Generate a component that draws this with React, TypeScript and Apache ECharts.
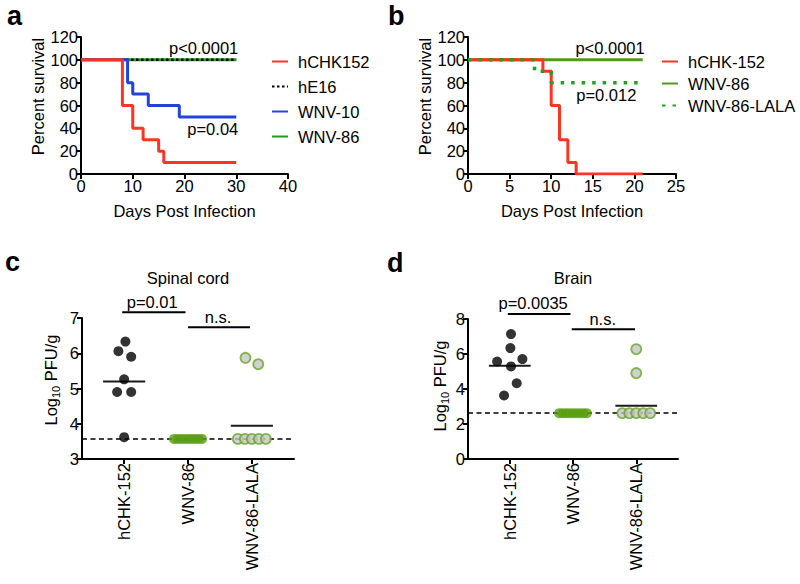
import React, { useEffect, useRef } from 'react';
import * as echarts from 'echarts';

const FONT = '"Liberation Sans", Arial, Helvetica, sans-serif';
const FS = 16.5;

// ---- Panel a: survival (day, percent) ----
const survA_hCHK152 = [[0, 100], [8, 60], [10, 40], [12, 30], [15, 20], [16, 10], [30, 10]];
const survA_hE16 = [[0, 100], [30, 100]];
const survA_WNV10 = [[0, 100], [9, 80], [10, 70], [13, 60], [19, 50], [30, 50]];
const survA_WNV86 = [[0, 100], [30, 100]];
const annotA = [
  { text: 'p<0.0001', x: 30, y: 100, above: true },
  { text: 'p=0.04', x: 30, y: 50, above: false },
];

// ---- Panel b ----
const survB_hCHK152 = [[0, 100], [9, 90], [10, 60], [11, 30], [12, 10], [13, 0], [21, 0]];
const survB_WNV86 = [[0, 100], [21, 100]];
const survB_LALA = [[0, 100], [8, 90], [10, 80], [21, 80]];
const annotB = [
  { text: 'p<0.0001', x: 21, y: 100, above: true },
  { text: 'p=0.012', x: 20, y: 80, above: false },
];

// ---- Panels c/d: viral titers ----
const groups = ['hCHK-152', 'WNV-86', 'WNV-86-LALA'];

// [group index + jitter, log10 PFU/g]
const spinal_hCHK = [[-0.09, 6.06], [0.02, 6.33], [0.11, 5.9], [0, 5.26], [-0.11, 4.9], [0.11, 4.9], [0, 3.62]];
const spinal_WNV86 = [[0.78, 3.57], [0.835, 3.57], [0.89, 3.57], [0.945, 3.57], [1, 3.57], [1.055, 3.57], [1.11, 3.57], [1.165, 3.57], [1.22, 3.57]];
const spinal_LALA = [[1.9, 5.87], [2.1, 5.69], [1.78, 3.57], [1.89, 3.57], [2, 3.57], [2.11, 3.57], [2.22, 3.57]];
const spinal_means = [[0, 5.2], [2, 3.94]];
const spinal_limit = 3.57;
const spinal_sig = [[-0.03, 0.96, 7.16, 0.44], [1.0, 1.97, 6.74, 1.47]];
const spinal_sigText = ['p=0.01', 'n.s.'];

const brain_hCHK = [[0.02, 7.14], [0.01, 6.34], [-0.2, 5.57], [0.2, 5.71], [0.02, 5.29], [0.11, 4.33], [-0.09, 3.63]];
const brain_WNV86 = [[0.78, 2.62], [0.835, 2.62], [0.89, 2.62], [0.945, 2.62], [1, 2.62], [1.055, 2.62], [1.11, 2.62], [1.165, 2.62], [1.22, 2.62]];
const brain_LALA = [[2, 6.28], [2, 4.91], [1.78, 2.62], [1.89, 2.62], [2, 2.62], [2.11, 2.62], [2.22, 2.62]];
const brain_means = [[0, 5.33], [2, 3.04]];
const brain_limit = 2.62;
const brain_sig = [[-0.03, 0.96, 8.29, 0.37], [0.98, 1.98, 7.41, 1.47]];
const brain_sigText = ['p=0.0035', 'n.s.'];

const RED = '#ff3322';
const BLUE = '#2244dd';
const GREEN_A = '#229922';
const GREEN_B = '#4f9a1e';
const GREEN_DOT = '#1fa31f';
const GREEN_C = '#5a9e12';
const GREY_FILL = '#c6c6c6';
const GREEN_RING = '#6aa628';

const axisCommon = {
  axisLine: { onZero: false, lineStyle: { color: '#000', width: 2 } },
  axisTick: { lineStyle: { color: '#000', width: 2 }, length: 5 },
  axisLabel: { color: '#000', fontSize: FS, fontFamily: FONT, margin: 3 },
  splitLine: { show: false },
  nameTextStyle: { color: '#000', fontSize: FS, fontFamily: FONT },
};

function annotSeries(idx: number, annots: any[]) {
  return {
    type: 'custom',
    xAxisIndex: idx,
    yAxisIndex: idx,
    silent: true,
    z: 10,
    data: annots.map((a) => [a.x, a.y]),
    renderItem: (params: any, api: any) => {
      const a = annots[params.dataIndex];
      const p = api.coord([api.value(0), api.value(1)]);
      return {
        type: 'text',
        x: p[0] + 2,
        y: a.above ? p[1] - 3 : p[1] + 4,
        style: {
          text: a.text,
          fill: '#000',
          fontSize: FS,
          fontFamily: FONT,
          align: 'right',
          verticalAlign: a.above ? 'bottom' : 'top',
        },
      };
    },
  };
}

function meanSeries(idx: number, means: number[][]) {
  return {
    type: 'custom',
    xAxisIndex: idx,
    yAxisIndex: idx,
    silent: true,
    z: 1,
    data: means,
    renderItem: (params: any, api: any) => {
      const c = api.value(0);
      const m = api.value(1);
      const p1 = api.coord([c - 0.33, m]);
      const p2 = api.coord([c + 0.33, m]);
      return {
        type: 'line',
        shape: { x1: p1[0], y1: p1[1], x2: p2[0], y2: p2[1] },
        style: { stroke: '#1a1a1a', lineWidth: 2 },
      };
    },
  };
}

function sigSeries(idx: number, sig: number[][], texts: string[]) {
  return {
    type: 'custom',
    xAxisIndex: idx,
    yAxisIndex: idx,
    silent: true,
    z: 5,
    dimensions: ['from', 'to', 'y', 'lx'],
    encode: { x: [0, 1, 3], y: 2 },
    data: sig,
    renderItem: (params: any, api: any) => {
      const y = api.value(2);
      const p1 = api.coord([api.value(0), y]);
      const p2 = api.coord([api.value(1), y]);
      const pl = api.coord([api.value(3), y]);
      return {
        type: 'group',
        children: [
          {
            type: 'line',
            shape: { x1: p1[0], y1: p1[1], x2: p2[0], y2: p2[1] },
            style: { stroke: '#000', lineWidth: 2 },
          },
          {
            type: 'text',
            x: pl[0],
            y: pl[1] - 2,
            style: {
              text: texts[params.dataIndex],
              fill: '#000',
              fontSize: FS,
              fontFamily: FONT,
              align: 'center',
              verticalAlign: 'bottom',
            },
          },
        ],
      };
    },
  };
}

function scatterSeries(idx: number, name: string, data: number[][], style: any, limit?: number) {
  const s: any = {
    type: 'scatter',
    name,
    xAxisIndex: idx,
    yAxisIndex: idx,
    data,
    symbol: 'circle',
    symbolSize: 10,
    itemStyle: style,
    z: 3,
    silent: true,
  };
  if (limit !== undefined) {
    s.markLine = {
      silent: true,
      symbol: ['none', 'none'],
      label: { show: false },
      lineStyle: { type: [5, 3.5], color: '#000', width: 1.5 },
      z: 1,
      data: [{ yAxis: limit }],
    };
  }
  return s;
}

const titerXAxis = (gridIndex: number) => ({
  ...axisCommon,
  type: 'value',
  gridIndex,
  min: -0.66,
  max: 2.66,
  axisTick: { ...axisCommon.axisTick, customValues: [0, 1, 2] },
  axisLabel: {
    ...axisCommon.axisLabel,
    margin: 4,
    rotate: 90,
    customValues: [0, 1, 2],
    formatter: (v: number) => groups[Math.round(v)] ?? '',
  },
});

const logName = '{a|Log}{s|10}{a| PFU/g}';
const logRich = {
  a: { fontSize: FS, fontFamily: FONT, color: '#000', lineHeight: 20 },
  s: { fontSize: 11, fontFamily: FONT, color: '#000', verticalAlign: 'bottom', lineHeight: 14 },
};

const legendCommon = {
  orient: 'vertical',
  itemWidth: 16,
  itemHeight: 14,
  padding: 0,
  selectedMode: false,
  itemStyle: { opacity: 0 },
  textStyle: { fontSize: FS, fontFamily: FONT, color: '#000', padding: [0, 0, 0, 5] },
};

const option: any = {
  animation: false,
  backgroundColor: '#fff',
  textStyle: { fontFamily: FONT },
  grid: [
    { left: 81, top: 37, width: 207, height: 137, outerBoundsMode: 'none' },
    { left: 468, top: 37, width: 208, height: 137, outerBoundsMode: 'none' },
    { left: 82, top: 318, width: 212, height: 141, outerBoundsMode: 'none' },
    { left: 468, top: 319, width: 210, height: 140, outerBoundsMode: 'none' },
  ],
  xAxis: [
    { ...axisCommon, type: 'value', gridIndex: 0, min: 0, max: 40, interval: 10, name: 'Days Post Infection', nameLocation: 'middle', nameGap: 28 },
    { ...axisCommon, type: 'value', gridIndex: 1, min: 0, max: 25, interval: 5, name: 'Days Post Infection', nameLocation: 'middle', nameGap: 28 },
    titerXAxis(2),
    titerXAxis(3),
  ],
  yAxis: [
    { ...axisCommon, type: 'value', gridIndex: 0, min: 0, max: 120, interval: 20, name: 'Percent survival', nameLocation: 'middle', nameGap: 33, nameTextStyle: { ...axisCommon.nameTextStyle, padding: [0, 0, 0, 18] } },
    { ...axisCommon, type: 'value', gridIndex: 1, min: 0, max: 120, interval: 20, name: 'Percent survival', nameLocation: 'middle', nameGap: 32, nameTextStyle: { ...axisCommon.nameTextStyle, padding: [0, 0, 0, 18] } },
    { ...axisCommon, type: 'value', gridIndex: 2, min: 3, max: 7, interval: 1, name: logName, nameLocation: 'middle', nameGap: 21, nameTextStyle: { ...axisCommon.nameTextStyle, rich: logRich, padding: [0, 0, 0, 17] } },
    { ...axisCommon, type: 'value', gridIndex: 3, min: 0, max: 8, interval: 2, name: logName, nameLocation: 'middle', nameGap: 18, nameTextStyle: { ...axisCommon.nameTextStyle, rich: logRich, padding: [0, 0, 0, 6] } },
  ],
  legend: [
    {
      ...legendCommon, left: 271, top: 53, itemGap: 8,
      data: ['hCHK152', 'hE16', 'WNV-10', { name: 'WNV-86', lineStyle: { color: GREEN_A } }],
    },
    {
      ...legendCommon, left: 661, top: 53, itemGap: 5,
      data: ['hCHK-152', { name: 'WNV-86', lineStyle: { color: GREEN_B, type: 'solid' } }, 'WNV-86-LALA'],
    },
  ],
  graphic: [
    { type: 'text', left: 7, top: 2, style: { text: 'a', fontSize: 27, fontWeight: 'bold', fontFamily: FONT, fill: '#000' } },
    { type: 'text', left: 388, top: 2, style: { text: 'b', fontSize: 27, fontWeight: 'bold', fontFamily: FONT, fill: '#000' } },
    { type: 'text', left: 5, top: 248, style: { text: 'c', fontSize: 27, fontWeight: 'bold', fontFamily: FONT, fill: '#000' } },
    { type: 'text', left: 387, top: 249, style: { text: 'd', fontSize: 27, fontWeight: 'bold', fontFamily: FONT, fill: '#000' } },
    { type: 'text', x: 188, y: 278, style: { text: 'Spinal cord', fontSize: FS, fontFamily: FONT, fill: '#000', align: 'center', verticalAlign: 'middle' } },
    { type: 'text', x: 573, y: 278, style: { text: 'Brain', fontSize: FS, fontFamily: FONT, fill: '#000', align: 'center', verticalAlign: 'middle' } },
  ],
  series: [
    // panel a
    { type: 'line', name: 'WNV-86', xAxisIndex: 0, yAxisIndex: 0, data: survA_WNV86, step: 'end', symbol: 'none', lineStyle: { color: GREEN_A, width: 3 }, itemStyle: { color: GREEN_A } },
    { type: 'line', name: 'hE16', xAxisIndex: 0, yAxisIndex: 0, data: survA_hE16, step: 'end', symbol: 'none', lineStyle: { color: '#000', width: 2.5, type: [2.5, 2.5] }, itemStyle: { color: '#000' } },
    { type: 'line', name: 'WNV-10', xAxisIndex: 0, yAxisIndex: 0, data: survA_WNV10, step: 'end', symbol: 'none', lineStyle: { color: BLUE, width: 3 }, itemStyle: { color: BLUE } },
    { type: 'line', name: 'hCHK152', xAxisIndex: 0, yAxisIndex: 0, data: survA_hCHK152, step: 'end', symbol: 'none', lineStyle: { color: RED, width: 3 }, itemStyle: { color: RED } },
    annotSeries(0, annotA),
    // panel b
    { type: 'line', name: 'WNV-86', xAxisIndex: 1, yAxisIndex: 1, data: survB_WNV86, step: 'end', symbol: 'none', lineStyle: { color: GREEN_B, width: 3 }, itemStyle: { color: GREEN_B } },
    { type: 'line', name: 'hCHK-152', xAxisIndex: 1, yAxisIndex: 1, data: survB_hCHK152, step: 'end', symbol: 'none', lineStyle: { color: RED, width: 3 }, itemStyle: { color: RED } },
    { type: 'line', name: 'WNV-86-LALA', xAxisIndex: 1, yAxisIndex: 1, data: survB_LALA, step: 'end', symbol: 'none', lineStyle: { color: GREEN_DOT, width: 3.5, type: [3.5, 7] }, itemStyle: { color: GREEN_DOT } },
    annotSeries(1, annotB),
    // panel c
    meanSeries(2, spinal_means),
    scatterSeries(2, 'spinal hCHK-152', spinal_hCHK, { color: '#000' }, spinal_limit),
    scatterSeries(2, 'spinal WNV-86', spinal_WNV86, { color: GREEN_C }),
    scatterSeries(2, 'spinal WNV-86-LALA', spinal_LALA, { color: GREY_FILL, borderColor: GREEN_RING, borderWidth: 1.8 }),
    sigSeries(2, spinal_sig, spinal_sigText),
    // panel d
    meanSeries(3, brain_means),
    scatterSeries(3, 'brain hCHK-152', brain_hCHK, { color: '#000' }, brain_limit),
    scatterSeries(3, 'brain WNV-86', brain_WNV86, { color: GREEN_C }),
    scatterSeries(3, 'brain WNV-86-LALA', brain_LALA, { color: GREY_FILL, borderColor: GREEN_RING, borderWidth: 1.8 }),
    sigSeries(3, brain_sig, brain_sigText),
  ],
};

export default function App() {
  const ref = useRef<HTMLDivElement>(null);
  useEffect(() => {
    document.body.style.margin = '0';
    if (!ref.current) return;
    const chart = echarts.init(ref.current, null, { renderer: 'svg' });
    chart.setOption(option);
    return () => chart.dispose();
  }, []);
  return <div ref={ref} style={{ width: 800, height: 584 }} />;
}
